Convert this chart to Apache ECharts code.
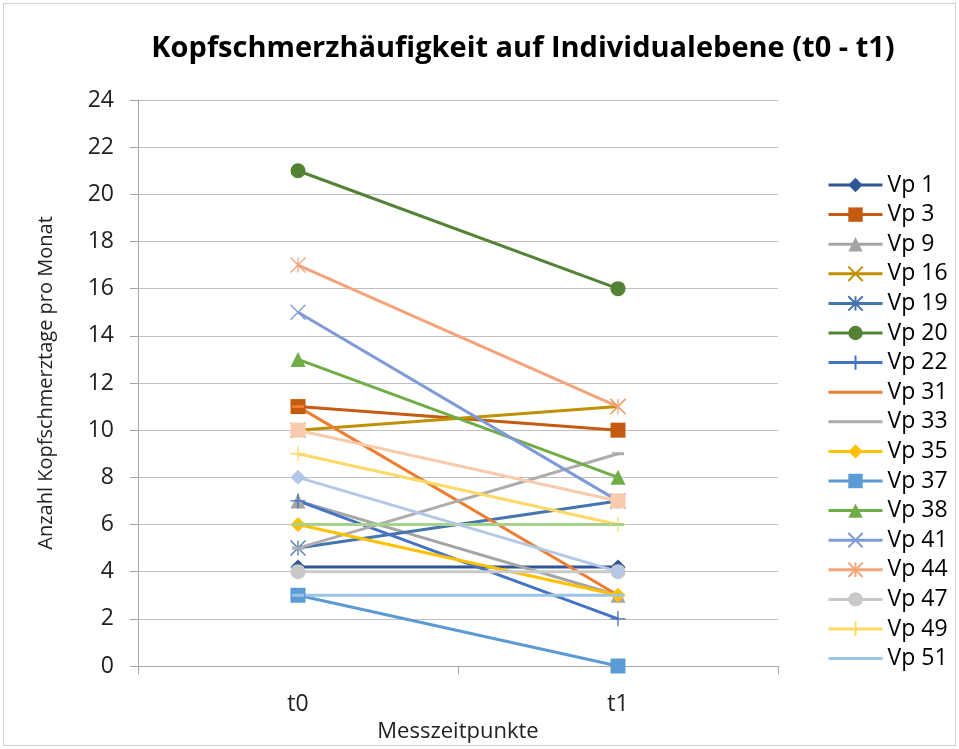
<!DOCTYPE html>
<html>
<head>
<meta charset="utf-8">
<script src="https://cdn.jsdelivr.net/npm/echarts@6/dist/echarts.min.js"></script>
<style>
  html, body { margin: 0; padding: 0; background: #fff; }
  #main { width: 959px; height: 749px; }
  #frame { position: absolute; left: 3px; top: 3px; width: 951px; height: 741px; border: 1px solid #d0d0d0; pointer-events: none; }
</style>
</head>
<body>
<div id="main"></div>
<div id="frame"></div>
<script>
var categories = ['t0', 't1'];
var names  = ['Vp 1','Vp 3','Vp 9','Vp 16','Vp 19','Vp 20','Vp 22','Vp 31','Vp 33','Vp 35','Vp 37','Vp 38','Vp 41','Vp 44','Vp 47','Vp 49','Vp 51','Vp 52','Vp 53','Vp 54'];
var legendNames = names.slice(0, 17);
var values = [
    [4.2, 4.2],  // Vp 1
    [11, 10],    // Vp 3
    [7, 3],      // Vp 9
    [10, 11],    // Vp 16
    [5, 7],      // Vp 19
    [21, 16],    // Vp 20
    [7, 2],      // Vp 22
    [11, 3],     // Vp 31
    [5, 9],      // Vp 33
    [6, 3],      // Vp 35
    [3, 0],      // Vp 37
    [13, 8],     // Vp 38
    [15, 7],     // Vp 41
    [17, 11],    // Vp 44
    [4, 4],      // Vp 47
    [9, 6],      // Vp 49
    [3, 3],      // Vp 51
    [6, 6],      // not in legend
    [8, 4],      // not in legend
    [10, 7]      // not in legend
];
var colors = ['#2F5597','#C55A11','#A5A5A5','#BF9000','#4575AE','#548235','#4472C4','#ED7D31','#ADADAD','#FFC000','#5B9BD5','#70AD47','#7F9AD8','#F4A47A','#C9C9C9','#FFD966','#9DC3E6','#A9D18E','#B4C7E7','#F8CBAD'];
var yTicks = [0, 24, 2];

var X_PATH = 'path://M0,0L10,10M10,0L0,10';
var STAR_PATH = 'path://M0,0L10,10M10,0L0,10M5,0L5,10';
var PLUS_PATH = 'path://M5,0L5,10M0,5L10,5';
var markers = ['diamond','rect','triangle',X_PATH,STAR_PATH,'circle',PLUS_PATH,'dash','dash'];

var font = '"Open Sans", sans-serif';

var series = names.map(function (n, i) {
    var m = markers[i % markers.length];
    var size = 15;
    var sym = m;
    if (m === 'dash') { sym = 'rect'; size = [12, 3]; }
    var stroked = (m === X_PATH || m === STAR_PATH || m === PLUS_PATH);
    return {
        type: 'line',
        name: n,
        data: values[i],
        symbol: sym,
        symbolSize: stroked ? 15 : size,
        showSymbol: true,
        animation: false,
        lineStyle: { color: colors[i], width: 3 },
        itemStyle: {
            color: stroked ? 'none' : colors[i],
            borderColor: colors[i],
            borderWidth: stroked ? 1.3 : 0
        }
    };
});

var legendData = legendNames.map(function (n, i) {
    if (markers[i % markers.length] === 'dash') {
        return { name: n, itemStyle: { opacity: 0 } };
    }
    return { name: n };
});

var myChart = echarts.init(document.getElementById('main'));
var option = {
    title: {
        text: 'Kopfschmerzhäufigkeit auf Individualebene (t0 - t1)',
        left: 518,
        textAlign: 'center',
        top: 29,
        textStyle: { fontFamily: font, fontSize: 29, fontWeight: 'bold', color: '#000' }
    },
    grid: { left: 138, right: 181, top: 100, bottom: 83 },
    legend: {
        orient: 'vertical',
        left: 822,
        top: 168,
        itemWidth: 54,
        itemHeight: 18,
        itemGap: 5.6,
        data: legendData,
        lineStyle: { width: 3 },
        textStyle: { fontFamily: font, fontSize: 23, color: '#000', lineHeight: 24 }
    },
    xAxis: {
        type: 'category',
        data: categories,
        boundaryGap: true,
        name: 'Messzeitpunkte',
        nameLocation: 'middle',
        nameGap: 42,
        nameTextStyle: { fontFamily: font, fontSize: 22, color: '#222' },
        axisLine: { show: true, lineStyle: { color: '#A6A6A6', width: 1 } },
        axisTick: { show: true, length: 8, lineStyle: { color: '#A6A6A6' } },
        axisLabel: { fontFamily: font, fontSize: 23, color: '#222', margin: 27 }
    },
    yAxis: {
        type: 'value',
        min: yTicks[0],
        max: yTicks[1],
        interval: yTicks[2],
        name: 'Anzahl Kopfschmerztage pro Monat',
        nameLocation: 'middle',
        nameGap: 82,
        nameTextStyle: { fontFamily: font, fontSize: 20, color: '#222' },
        axisLine: { show: true, lineStyle: { color: '#A6A6A6', width: 1 } },
        axisTick: { show: true, length: 8, lineStyle: { color: '#A6A6A6' } },
        splitLine: { lineStyle: { color: '#BFBFBF', width: 1 } },
        axisLabel: { fontFamily: font, fontSize: 23, color: '#222', margin: 24 }
    },
    series: series
};
myChart.setOption(option);
</script>
</body>
</html>
